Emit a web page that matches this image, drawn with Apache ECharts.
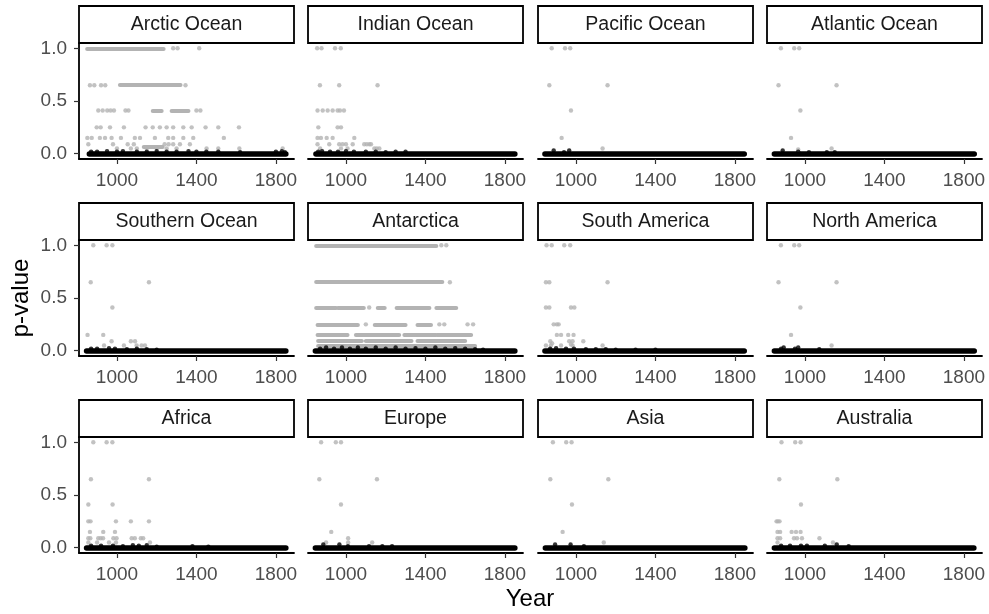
<!DOCTYPE html>
<html>
<head>
<meta charset="utf-8">
<script src="https://cdn.jsdelivr.net/npm/echarts@6/dist/echarts.min.js"></script>
<style>html,body{margin:0;padding:0;background:#fff}#c{width:989px;height:614px}</style>
</head>
<body>
<div id="c"></div>
<script>
// ---------- DATA ----------
const panelNames = ['Arctic Ocean','Indian Ocean','Pacific Ocean','Atlantic Ocean',
  'Southern Ocean','Antarctica','South America','North America',
  'Africa','Europe','Asia','Australia'];
const xTicks = [1000, 1400, 1800];
const yTicks = [0, 0.5, 1];

// dense black runs of near-zero p-values: [startYear, endYear]
const blackSpans = [[861,1850],[849,1850],[844,1847],[846,1852],
  [847,1850],[846,1850],[844,1847],[846,1852],
  [847,1850],[846,1850],[846,1850],[846,1850]];

// dense grey runs: [pValue, startYear, endYear]
const arcticGreyRuns = [[1,850,1235],[0.65,1015,1320],[0.41,1180,1225],[0.41,1275,1360],[0.07,1135,1230]];
const antarcticaGreyRuns = [[1,850,1455],[0.65,850,1485],[0.41,850,950],[0.41,960,1090],[0.41,1160,1195],
  [0.41,1255,1420],[0.41,1455,1555],[0.25,857,1060],[0.25,1145,1300],[0.25,1360,1428],
  [0.15,857,1008],[0.15,1050,1268],[0.15,1294,1453],[0.15,1460,1630],
  [0.09,860,1080],[0.09,1100,1330],[0.09,1360,1600],[0.05,860,1650]];

// individual grey points: [year, pValue]
const arcticGrey = [[1283,1],[1305,1],[1414,1],
  [864,0.65],[886,0.65],[920,0.65],[941,0.65],[1345,0.65],
  [906,0.41],[928,0.41],[951,0.41],[968,0.41],[985,0.41],[1043,0.41],[1058,0.41],[1400,0.41],[1420,0.41],
  [898,0.25],[918,0.25],[965,0.25],[1035,0.25],[1144,0.25],[1180,0.25],[1216,0.25],[1250,0.25],[1283,0.25],[1334,0.25],[1376,0.25],[1446,0.25],[1510,0.25],[1614,0.25],
  [851,0.15],[873,0.15],[914,0.15],[940,0.15],[973,0.15],[1020,0.15],[1090,0.15],[1116,0.15],[1191,0.15],[1258,0.15],[1283,0.15],[1334,0.15],[1384,0.15],[1538,0.15],
  [856,0.09],[980,0.09],[1054,0.09],[1085,0.09],[1240,0.09],[1260,0.09],[1283,0.09],[1317,0.09],[1367,0.09],
  [1000,0.05],[1070,0.05],[1100,0.05],[1150,0.05],[1200,0.05],[1250,0.05],[1300,0.05],[1451,0.05],[1510,0.05],[1616,0.05],[1834,0.05]];
const indianGrey = [[855,1],[877,1],[945,1],[974,1],
  [869,0.65],[966,0.65],[1159,0.65],
  [857,0.41],[883,0.41],[908,0.41],[933,0.41],[958,0.41],[970,0.41],[990,0.41],
  [861,0.25],[958,0.25],[975,0.25],
  [857,0.15],[874,0.15],[903,0.15],[933,0.15],[1042,0.15],
  [857,0.09],[916,0.09],[966,0.09],[983,0.09],[1000,0.09],[1034,0.09],[1092,0.09],[1105,0.09],[1118,0.09],[1126,0.09],
  [870,0.05],[975,0.05],[1008,0.05],[1143,0.05],[1155,0.05],[1168,0.05]];
const pacificGrey = [[878,1],[945,1],[971,1],[866,0.65],[1159,0.65],[975,0.41],[928,0.15],[1134,0.05]];
const atlanticGrey = [[879,1],[946,1],[971,1],[867,0.65],[1159,0.65],[977,0.41],[930,0.15],[1134,0.05],[966,0.04]];
const southernGrey = [[881,1],[948,1],[977,1],[868,0.65],[1161,0.65],[977,0.41],[852,0.15],[931,0.15],
  [973,0.09],[1070,0.09],[1091,0.09],[935,0.05],[1035,0.05],[1099,0.05],[1124,0.05],[1141,0.05]];
const antarcticaGrey = [[1480,1],[1505,1],[1523,0.65],[1117,0.41],[1100,0.25],[1470,0.25],[1495,0.25],[1612,0.25],[1640,0.25]];
const southAmericaGrey = [[852,1],[878,1],[941,1],[971,1],[849,0.65],[866,0.65],[1159,0.65],
  [849,0.41],[866,0.41],[975,0.41],[992,0.41],[888,0.25],[904,0.25],[913,0.25],
  [904,0.15],[925,0.15],[961,0.15],[988,0.15],[871,0.09],[966,0.09],[983,0.09],[1037,0.09],
  [849,0.05],[874,0.05],[925,0.05],[983,0.05],[1134,0.05],[880,0.07],[975,0.06]];
const northAmericaGrey = [[879,1],[946,1],[971,1],[867,0.65],[1159,0.65],[977,0.41],[930,0.15],[1134,0.05]];
const africaGrey = [[881,1],[948,1],[977,1],[869,0.65],[1161,0.65],[856,0.41],[978,0.41],
  [856,0.25],[867,0.25],[995,0.25],[1070,0.25],[1161,0.25],[864,0.15],[931,0.15],[990,0.15],
  [856,0.09],[866,0.09],[906,0.09],[918,0.09],[930,0.09],[982,0.09],[998,0.09],[1074,0.09],[1090,0.09],[1120,0.09],[1132,0.09],
  [856,0.05],[900,0.05],[960,0.05],[995,0.05],[1166,0.05]];
const europeGrey = [[875,1],[949,1],[975,1],[866,0.65],[1156,0.65],[975,0.41],[926,0.15],[1011,0.09],[900,0.05],[1011,0.05],[1132,0.05]];
const asiaGrey = [[884,1],[951,1],[978,1],[871,0.65],[1163,0.65],[980,0.41],[933,0.15],[1140,0.05]];
const australiaGrey = [[882,1],[951,1],[978,1],[871,0.65],[1163,0.65],[980,0.41],
  [857,0.25],[864,0.25],[872,0.25],[862,0.15],[875,0.15],[933,0.15],[955,0.15],[978,0.15],
  [862,0.09],[875,0.09],[945,0.09],[960,0.09],[985,0.09],[1073,0.09],[862,0.05],[1141,0.05]];

// individual black points slightly above zero: [year, pValue]
const arcticBlack = [[870,0.02],[900,0.02],[950,0.025],[1000,0.02],[1030,0.025],[1100,0.02],[1150,0.02],[1200,0.025],[1250,0.02],[1300,0.02],[1360,0.025],[1400,0.02],[1450,0.02],[1510,0.02],[1620,0.015],[1800,0.02],[1830,0.025],[1845,0.015]];
const indianBlack = [[860,0.02],[880,0.025],[920,0.02],[960,0.02],[1000,0.025],[1040,0.02],[1100,0.02],[1150,0.02],[1200,0.015],[1250,0.02],[1300,0.02]];
const pacificBlack = [[888,0.03],[966,0.03],[940,0.015]];
const atlanticBlack = [[888,0.03],[966,0.02],[1020,0.015],[1110,0.015],[1150,0.015]];
const southernBlack = [[870,0.02],[900,0.02],[960,0.025],[990,0.02],[1050,0.015],[1100,0.02],[1150,0.015],[1200,0.01]];
const antarcticaBlack = [[870,0.02],[900,0.03],[940,0.02],[980,0.03],[1020,0.02],[1060,0.03],[1100,0.02],[1150,0.03],[1200,0.02],[1250,0.03],[1300,0.02],[1350,0.025],[1400,0.02],[1450,0.03],[1500,0.02],[1550,0.025],[1600,0.02],[1650,0.015],[1690,0.01]];
const southAmericaBlack = [[870,0.02],[900,0.025],[950,0.02],[990,0.02],[1050,0.015],[1100,0.015],[1150,0.015],[1200,0.01],[1300,0.01],[1400,0.01]];
const northAmericaBlack = [[893,0.03],[966,0.03],[1072,0.015],[880,0.02],[950,0.02]];
const africaBlack = [[870,0.02],[920,0.02],[980,0.02],[1030,0.015],[1080,0.025],[1110,0.02],[1150,0.025],[1200,0.01],[1380,0.015],[1460,0.01]];
const europeBlack = [[886,0.03],[967,0.03],[1010,0.015],[1116,0.015],[1183,0.015],[1232,0.015]];
const asiaBlack = [[895,0.03],[973,0.03],[1040,0.015]];
const australiaBlack = [[880,0.02],[925,0.02],[980,0.02],[1010,0.02],[1100,0.02],[1160,0.03],[1220,0.015]];

const greyPointSets = [arcticGrey, indianGrey, pacificGrey, atlanticGrey, southernGrey, antarcticaGrey,
  southAmericaGrey, northAmericaGrey, africaGrey, europeGrey, asiaGrey, australiaGrey];
const greyRunSets = [arcticGreyRuns, [], [], [], [], antarcticaGreyRuns, [], [], [], [], [], []];
const blackPointSets = [arcticBlack, indianBlack, pacificBlack, atlanticBlack, southernBlack, antarcticaBlack,
  southAmericaBlack, northAmericaBlack, africaBlack, europeBlack, asiaBlack, australiaBlack];

// ---------- LAYOUT ----------
const colLeft = [79, 308, 538, 767];
const rowTop = [43, 240, 437];
const panelW = 215, panelH = 116, stripH = 37;
const FONT = 'Liberation Sans, Arial, Helvetica, sans-serif';
const GREY = '#B3B3B3';

const grids = [], xAxes = [], yAxes = [], series = [], graphics = [];
panelNames.forEach((name, i) => {
  const r = Math.floor(i / 4), c = i % 4;
  grids.push({left: colLeft[c], top: rowTop[r], width: panelW, height: panelH, containLabel: false});
  xAxes.push({
    type: 'value', gridIndex: i, min: 809, max: 1891,
    axisLine: {show: true, onZero: false, lineStyle: {color: '#000', width: 1.8}},
    axisTick: {show: true, customValues: xTicks, length: 5, lineStyle: {color: '#333', width: 1.2}},
    axisLabel: {show: true, customValues: xTicks, color: '#4D4D4D', fontSize: 19, fontFamily: FONT, margin: 12,
      formatter: v => String(v)},
    splitLine: {show: false}
  });
  yAxes.push({
    type: 'value', gridIndex: i, min: -0.05, max: 1.05,
    axisLine: {show: c === 0, onZero: false, lineStyle: {color: '#000', width: 1.8}},
    axisTick: {show: c === 0, customValues: yTicks, length: 5, lineStyle: {color: '#333', width: 1.2}},
    axisLabel: {show: c === 0, customValues: yTicks, color: '#4D4D4D', fontSize: 19, fontFamily: FONT, margin: 12,
      formatter: v => Number(v).toFixed(1)},
    splitLine: {show: false}
  });
  series.push({
    type: 'lines', coordinateSystem: 'cartesian2d', xAxisIndex: i, yAxisIndex: i, silent: true,
    lineStyle: {color: GREY, width: 4, opacity: 1, cap: 'round'},
    data: greyRunSets[i].map(d => ({coords: [[d[1], d[0]], [d[2], d[0]]]}))
  });
  series.push({
    type: 'scatter', xAxisIndex: i, yAxisIndex: i, symbolSize: 4.4, silent: true,
    itemStyle: {color: GREY}, data: greyPointSets[i]
  });
  series.push({
    type: 'lines', coordinateSystem: 'cartesian2d', xAxisIndex: i, yAxisIndex: i, silent: true,
    lineStyle: {color: '#000', width: 5.5, opacity: 1, cap: 'round'},
    data: [{coords: [[blackSpans[i][0], 0.003], [blackSpans[i][1], 0.003]]}]
  });
  series.push({
    type: 'scatter', xAxisIndex: i, yAxisIndex: i, symbolSize: 4.4, silent: true,
    itemStyle: {color: '#000'}, data: blackPointSets[i]
  });
  graphics.push({
    type: 'rect', shape: {x: colLeft[c], y: rowTop[r] - stripH, width: panelW, height: stripH},
    style: {fill: '#fff', stroke: '#000', lineWidth: 1.8}
  });
  graphics.push({
    type: 'text', x: colLeft[c] + panelW / 2, y: rowTop[r] - stripH / 2,
    style: {text: name, fill: '#1A1A1A', font: '19.5px ' + FONT, textAlign: 'center', textVerticalAlign: 'middle'}
  });
});
graphics.push({
  type: 'text', x: 21, y: 298, rotation: Math.PI / 2,
  style: {text: 'p-value', fill: '#000', font: '24px ' + FONT, textAlign: 'center', textVerticalAlign: 'middle'}
});
graphics.push({
  type: 'text', x: 530, y: 599,
  style: {text: 'Year', fill: '#000', font: '24px ' + FONT, textAlign: 'center', textVerticalAlign: 'middle'}
});

const chart = echarts.init(document.getElementById('c'), null, {renderer: 'canvas'});
chart.setOption({
  animation: false,
  backgroundColor: '#fff',
  grid: grids, xAxis: xAxes, yAxis: yAxes, series: series, graphic: graphics
});
</script>
</body>
</html>
